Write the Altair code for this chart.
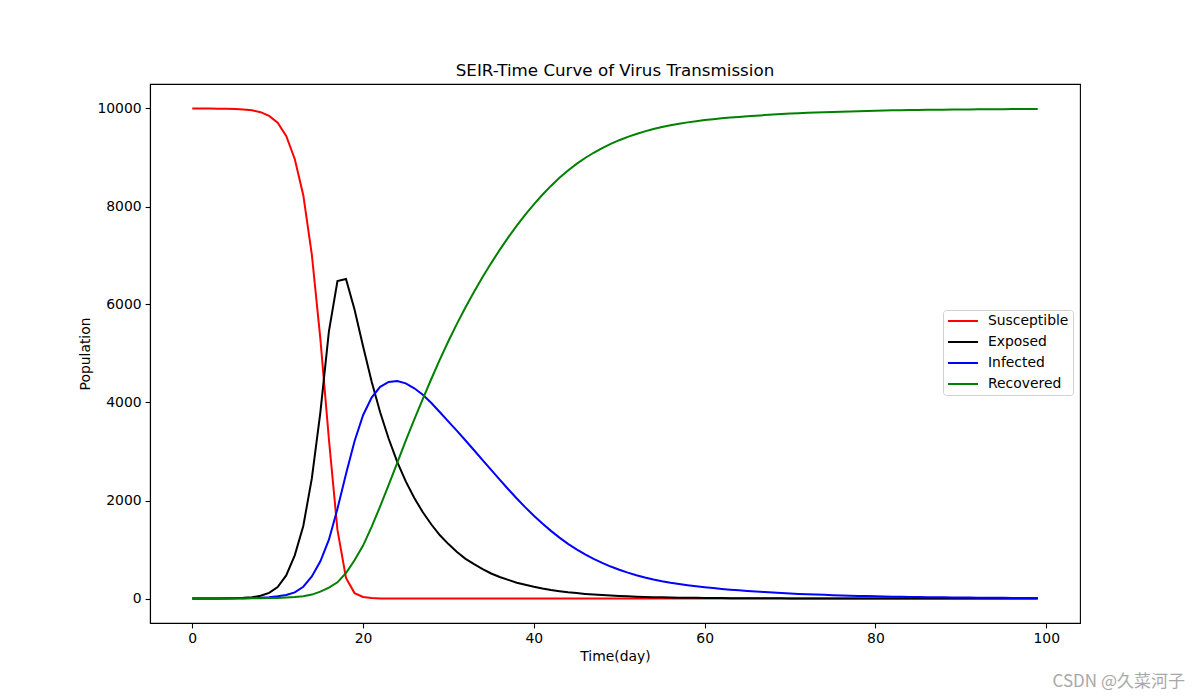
import altair as alt
import pandas as pd

days = list(range(100))

susceptible = [
    9999, 9999, 9998, 9996, 9993, 9988, 9979, 9962, 9925, 9850,
    9710, 9440, 8970, 8230, 7020, 5300, 3250, 1400, 420, 110,
    30, 8, 2, 1, 0, 0, 0, 0, 0, 0,
    0, 0, 0, 0, 0, 0, 0, 0, 0, 0,
    0, 0, 0, 0, 0, 0, 0, 0, 0, 0,
    0, 0, 0, 0, 0, 0, 0, 0, 0, 0,
    0, 0, 0, 0, 0, 0, 0, 0, 0, 0,
    0, 0, 0, 0, 0, 0, 0, 0, 0, 0,
    0, 0, 0, 0, 0, 0, 0, 0, 0, 0,
    0, 0, 0, 0, 0, 0, 0, 0, 0, 0,
]

exposed = [
    0, 1, 1, 2, 4, 7, 13, 26, 55, 115,
    235, 470, 880, 1480, 2450, 3800, 5450, 6480, 6520, 5900,
    5150, 4430, 3800, 3260, 2790, 2390, 2050, 1760, 1510, 1290,
    1110, 950, 810, 700, 600, 510, 440, 380, 320, 280,
    240, 205, 175, 150, 128, 110, 94, 81, 69, 59,
    51, 44, 37, 32, 27, 23, 20, 17, 15, 13,
    11, 9, 8, 7, 6, 5, 4, 4, 3, 3,
    2, 2, 2, 1, 1, 1, 1, 1, 1, 0,
    0, 0, 0, 0, 0, 0, 0, 0, 0, 0,
    0, 0, 0, 0, 0, 0, 0, 0, 0, 0,
]

infected = [
    1, 1, 1, 2, 2, 3, 5, 8, 14, 26,
    45, 70, 125, 240, 450, 760, 1200, 1830, 2540, 3210,
    3740, 4100, 4320, 4420, 4440, 4390, 4290, 4160, 3990, 3800,
    3610, 3420, 3225, 3025, 2825, 2625, 2425, 2230, 2040, 1860,
    1690, 1530, 1380, 1242, 1116, 1002, 900, 808, 726, 652,
    586, 528, 476, 429, 387, 350, 320, 295, 272, 250,
    230, 212, 196, 181, 167, 154, 142, 131, 121, 111,
    102, 94, 87, 80, 74, 68, 63, 58, 53, 49,
    45, 42, 38, 35, 33, 30, 28, 26, 24, 22,
    20, 18, 17, 16, 14, 13, 12, 11, 10, 9,
]

recovered = [
    0, 0, 0, 0, 1, 1, 2, 3, 5, 8,
    12, 20, 30, 45, 80, 140, 220, 330, 520, 780,
    1080, 1460, 1880, 2320, 2770, 3220, 3655, 4075, 4485, 4880,
    5255, 5610, 5945, 6260, 6560, 6845, 7115, 7370, 7610, 7835,
    8045, 8240, 8420, 8585, 8735, 8870, 8990, 9097, 9192, 9277,
    9353, 9420, 9480, 9533, 9580, 9621, 9657, 9689, 9717, 9742,
    9764, 9783, 9800, 9815, 9829, 9842, 9854, 9865, 9876, 9886,
    9896, 9904, 9911, 9919, 9925, 9931, 9936, 9941, 9946, 9951,
    9955, 9958, 9962, 9965, 9967, 9970, 9972, 9974, 9976, 9978,
    9980, 9982, 9983, 9984, 9986, 9987, 9988, 9989, 9990, 9991,
]

series_names = ["Susceptible", "Exposed", "Infected", "Recovered"]
series_colors = ["#ff0000", "#000000", "#0000ff", "#008000"]
x_ticks = [0, 20, 40, 60, 80, 100]
y_ticks = [0, 2000, 4000, 6000, 8000, 10000]

wide = pd.DataFrame({
    "day": days,
    "Susceptible": susceptible,
    "Exposed": exposed,
    "Infected": infected,
    "Recovered": recovered,
})
long = wide.melt(id_vars="day", var_name="series", value_name="population")
long["order"] = long["series"].map({n: i for i, n in enumerate(series_names)})

FONT = "DejaVu Sans"

lines = alt.Chart(long).mark_line(strokeWidth=2.0).encode(
    x=alt.X("day:Q",
            scale=alt.Scale(domain=[-4.95, 103.95], nice=False, zero=False),
            axis=alt.Axis(values=x_ticks, title="Time(day)", format="d",
                          grid=False)),
    y=alt.Y("population:Q",
            scale=alt.Scale(domain=[-500, 10500], nice=False, zero=False),
            axis=alt.Axis(values=y_ticks, title="Population", format="d",
                          grid=False)),
    color=alt.Color("series:N",
                    scale=alt.Scale(domain=series_names, range=series_colors),
                    legend=alt.Legend(
                        orient="none", legendX=793, legendY=226, title=None,
                        symbolType="M-2.5,0L2.5,0", symbolStrokeWidth=2.0,
                        symbolSize=144, symbolOffset=9,
                        labelFont=FONT, labelFontSize=13.9,
                        labelColor="black", padding=4, rowPadding=7,
                        strokeColor="#d0d0d0", fillColor="white",
                        cornerRadius=3, labelOffset=18,
                    )),
    detail="series:N",
    order="order:Q",
)

watermark = alt.Chart(pd.DataFrame({"t": ["CSDN @久菜河子"]})).mark_text(
    align="right", baseline="middle", fontSize=17,
    font="Noto Sans CJK SC", color="#a8a8a8",
).encode(
    x=alt.value(1035), y=alt.value(598), text="t:N"
)

chart = alt.layer(lines, watermark).properties(
    width=930, height=539,
    background="white",
    title=alt.TitleParams("SEIR-Time Curve of Virus Transmission",
                          font=FONT, fontSize=16.7, fontWeight="normal",
                          color="black", offset=4),
    autosize=alt.AutoSizeParams(type="none"),
    padding={"left": 142, "top": 76, "right": 112, "bottom": 69},
).configure_view(
    stroke="black", strokeWidth=1.1
).configure_axis(
    grid=False, domainColor="black", domainWidth=1.1,
    tickColor="black", tickSize=4.9, tickWidth=1.1,
    labelFont=FONT, labelFontSize=13.9, labelColor="black", labelPadding=4,
    titleFont=FONT, titleFontSize=13.9, titleFontWeight="normal",
    titleColor="black",
)

chart.save("out.html", embed_options={"renderer": "svg", "actions": False})
